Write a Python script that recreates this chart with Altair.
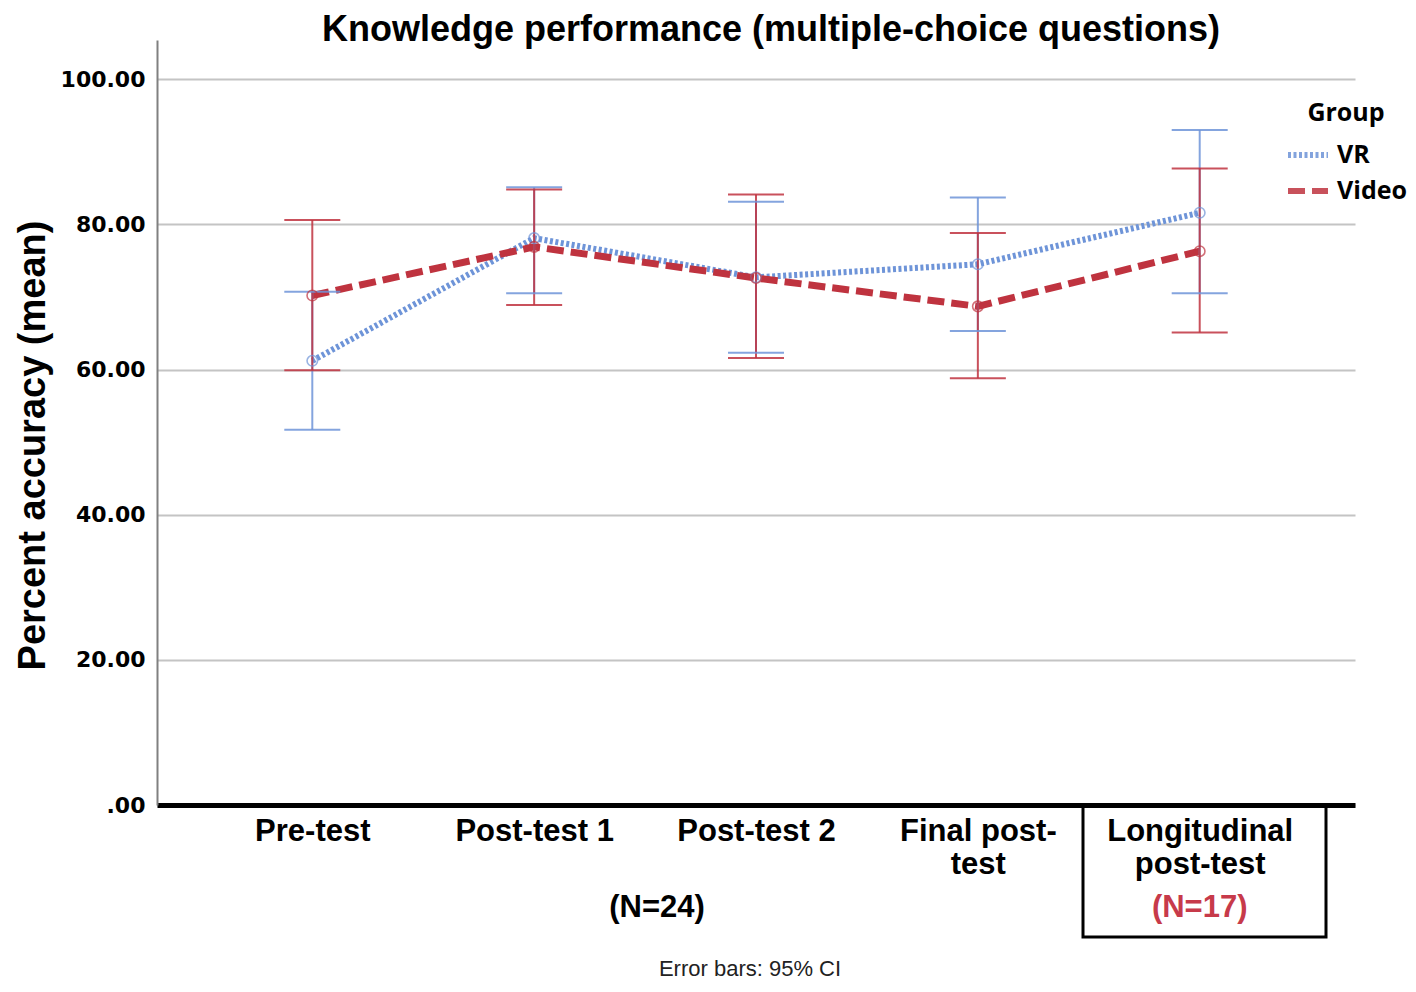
import altair as alt
import pandas as pd

categories = ["Pre-test", "Post-test 1", "Post-test 2", "Final post-test", "Longitudinal post-test"]
x_tick_lines = [["Pre-test"], ["Post-test 1"], ["Post-test 2"], ["Final post-", "test"], ["Longitudinal", "post-test"]]
groups = ["VR", "Video"]

vr_mean = [61.2, 78.1, 72.7, 74.5, 81.6]
vr_lo = [51.7, 70.5, 62.3, 65.3, 70.5]
vr_hi = [70.7, 85.1, 83.1, 83.7, 93.0]

video_mean = [70.2, 76.9, 72.6, 68.7, 76.3]
video_lo = [59.9, 68.9, 61.6, 58.8, 65.1]
video_hi = [80.6, 84.8, 84.1, 78.8, 87.7]

y_ticks = [0, 20, 40, 60, 80, 100]

rows = []
for g, m, lo, hi in [("VR", vr_mean, vr_lo, vr_hi), ("Video", video_mean, video_lo, video_hi)]:
    for c, a, b, d in zip(categories, m, lo, hi):
        rows.append({"Test": c, "Group": g, "mean": a, "lo": b, "hi": d})
df = pd.DataFrame(rows)

BLUE = "#6e94d8"
RED = "#bf333f"

parts = []
for c, lines in zip(categories, x_tick_lines):
    arr = "[" + ",".join("'" + s + "'" for s in lines) + "]"
    parts.append(f"datum.label == '{c}' ? {arr} : ")
label_expr = "".join(parts) + "datum.label"

x_scale = alt.Scale(type="point", padding=0.7, domain=categories)
x_enc = alt.X(
    "Test:N",
    sort=categories,
    scale=x_scale,
    axis=alt.Axis(
        title=None,
        ticks=False,
        grid=False,
        domainColor="#000000",
        domainWidth=5,
        labelFont="Liberation Sans",
        labelFontWeight="bold",
        labelFontSize=31,
        labelColor="#000000",
        labelPadding=11,
        labelLineHeight=33,
        labelLimit=0,
        labelAngle=0,
        labelExpr=label_expr,
    ),
)

y_scale = alt.Scale(domain=[0, 105.4], nice=False, zero=True)
y_axis = alt.Axis(
    title="Percent accuracy (mean)",
    titleFont="Liberation Sans",
    titleFontWeight="bold",
    titleFontSize=38,
    titleColor="#000000",
    titleX=-113,
    titleY=405,
    titleBaseline="alphabetic",
    values=y_ticks,
    labelExpr="datum.value == 0 ? '.00' : format(datum.value, '.2f')",
    labelFont="DejaVu Sans",
    labelFontWeight="bold",
    labelFontSize=22,
    labelColor="#000000",
    labelPadding=12,
    ticks=False,
    grid=True,
    gridColor="#c4c4c4",
    gridWidth=2,
    domainColor="#808080",
    domainWidth=2,
)

color_scale = alt.Scale(domain=groups, range=[BLUE, RED])
dash_scale = alt.Scale(domain=groups, range=[[3, 2.5], [17, 7]])

legend = alt.Legend(
    title="Group",
    orient="none",
    legendX=1128,
    legendY=61,
    symbolType="stroke",
    symbolSize=1600,
    symbolStrokeWidth=6,
    labelFont="Open Sans",
    labelFontWeight="bold",
    labelFontSize=25,
    labelColor="#000000",
    labelOffset=6,
    titleFont="Open Sans",
    titleFontWeight="bold",
    titleFontSize=25,
    titleColor="#000000",
    titleAnchor="middle",
    titlePadding=6,
    rowPadding=-2,
)

base = alt.Chart(df)

line_vr = base.transform_filter(alt.datum.Group == "VR").mark_line(strokeCap="butt", strokeWidth=6).encode(
    x=x_enc,
    y=alt.Y("mean:Q", scale=y_scale, axis=y_axis),
    color=alt.Color("Group:N", scale=color_scale, legend=legend),
    strokeDash=alt.StrokeDash("Group:N", scale=dash_scale, legend=legend),
)
line_video = base.transform_filter(alt.datum.Group == "Video").mark_line(strokeCap="butt", strokeWidth=7).encode(
    x=x_enc,
    y=alt.Y("mean:Q", scale=y_scale),
    color=alt.Color("Group:N", scale=color_scale, legend=legend),
    strokeDash=alt.StrokeDash("Group:N", scale=dash_scale, legend=legend),
)

err = base.mark_rule(strokeWidth=2, opacity=0.85).encode(
    x=x_enc,
    y=alt.Y("lo:Q", scale=y_scale),
    y2="hi:Q",
    color=alt.Color("Group:N", scale=color_scale),
)
cap_lo = base.mark_tick(size=56, thickness=2, opacity=0.85).encode(
    x=x_enc,
    y=alt.Y("lo:Q", scale=y_scale),
    color=alt.Color("Group:N", scale=color_scale),
)
cap_hi = base.mark_tick(size=56, thickness=2, opacity=0.85).encode(
    x=x_enc,
    y=alt.Y("hi:Q", scale=y_scale),
    color=alt.Color("Group:N", scale=color_scale),
)

points = base.mark_point(filled=False, size=110, strokeWidth=1.6).encode(
    x=x_enc,
    y=alt.Y("mean:Q", scale=y_scale),
    color=alt.Color("Group:N", scale=color_scale),
)

one = pd.DataFrame({"a": [0]})
box = alt.Chart(one).mark_rect(fillOpacity=0, stroke="#000000", strokeWidth=3).encode(
    x=alt.value(926), x2=alt.value(1169), y=alt.value(766), y2=alt.value(897)
)

title = alt.Chart(pd.DataFrame({"t": ["Knowledge performance (multiple-choice questions)"]})).mark_text(
    font="Liberation Sans", fontWeight="bold", fontSize=36, color="#000000", baseline="alphabetic", align="center"
).encode(x=alt.value(614), y=alt.value(1), text="t:N")

n24 = alt.Chart(pd.DataFrame({"t": ["(N=24)"]})).mark_text(
    font="Liberation Sans", fontWeight="bold", fontSize=31, color="#000000", baseline="middle"
).encode(x=alt.value(500), y=alt.value(868), text="t:N")

n17 = alt.Chart(pd.DataFrame({"t": ["(N=17)"], "Test": ["Longitudinal post-test"]})).mark_text(
    font="Liberation Sans", fontWeight="bold", fontSize=31, color="#c73a4a", baseline="middle"
).encode(x=alt.X("Test:N", sort=categories, scale=x_scale), y=alt.value(868), text="t:N")

note = alt.Chart(pd.DataFrame({"t": ["Error bars: 95% CI"]})).mark_text(
    font="Liberation Sans", fontSize=22, color="#222222", baseline="alphabetic"
).encode(x=alt.value(593), y=alt.value(936), text="t:N")

chart = alt.layer(line_vr, line_video, err, cap_lo, cap_hi, points, box, title, n24, n17, note).properties(
    width=1198,
    height=765,
    autosize=alt.AutoSizeParams(type="none"),
    padding={"left": 149, "top": 32, "right": 53, "bottom": 179},
).configure_view(stroke="transparent")

chart.save("out.html", embed_options={"renderer": "svg", "actions": False})
